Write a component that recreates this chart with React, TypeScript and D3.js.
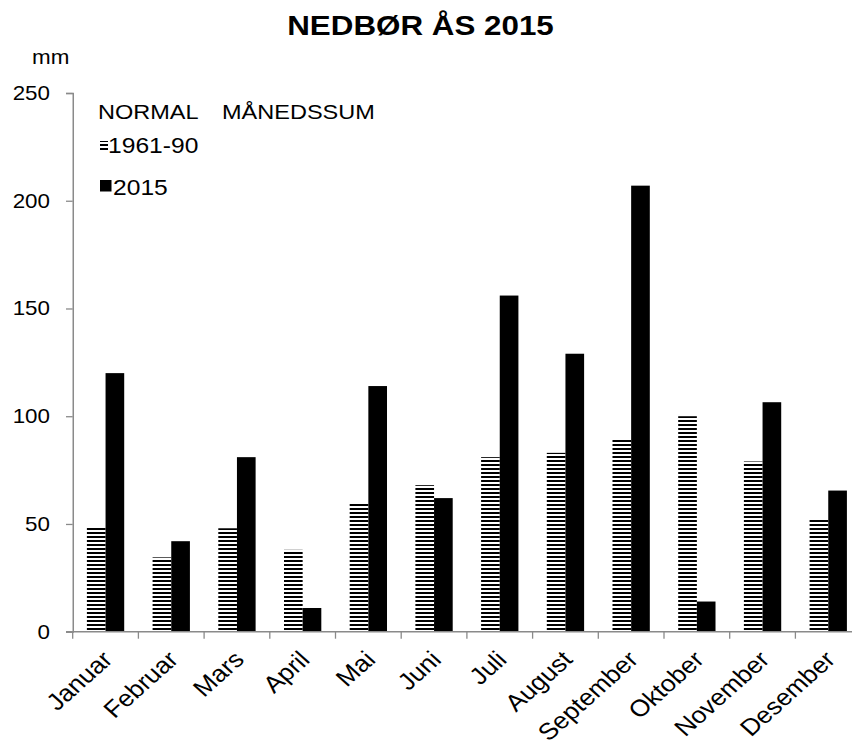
import React, { useRef, useEffect } from "react";
import * as d3 from "d3";

// månedlig nedbør, Ås
const months = [
    "Januar", "Februar", "Mars", "April", "Mai", "Juni",
    "Juli", "August", "September", "Oktober", "November", "Desember",
];
const normal6190 = [49, 34.5, 48, 38, 60, 68, 81, 83, 89.5, 100, 79, 52];
const nedbor2015 = [120, 42, 81, 11, 114, 62, 156, 129, 207, 14, 106.5, 65.5];
const yTicks = [0, 50, 100, 150, 200, 250];
const seriesKeys = ["normal", "y2015"];

const W = 852;
const H = 746;
// the picture is a bit wider than tall, so everything is drawn in a squeezed
// space and stretched back out horizontally
const SX = 1.12;

const App: React.FC = () => {
    const svgRef = useRef<SVGSVGElement | null>(null);

    useEffect(() => {
        const svg = d3.select(svgRef.current);
        svg.selectAll("*").remove();

        const font = "'Liberation Sans', Arial, sans-serif";
        const axisColor = "#8a8a8a";
        const left = 72.7 / SX;
        const step = 65.7 / SX;

        const x = d3
            .scaleBand<string>()
            .domain(months)
            .range([left, left + step * months.length])
            .paddingInner(0.432)
            .paddingOuter(0.216);
        const xs = d3
            .scaleBand<string>()
            .domain(seriesKeys)
            .range([0, x.bandwidth()]);
        const y = d3.scaleLinear().domain([0, 250]).range([631.7, 93]);

        const defs = svg.append("defs");
        const pat = defs
            .append("pattern")
            .attr("id", "hstripes")
            .attr("patternUnits", "userSpaceOnUse")
            .attr("width", 4)
            .attr("height", 4);
        pat.append("rect").attr("width", 4).attr("height", 4).attr("fill", "#fff");
        pat.append("rect").attr("width", 4).attr("height", 2).attr("fill", "#000");

        const g = svg
            .append("g")
            .attr("transform", `scale(${SX},1)`)
            .style("font-family", font);

        // title
        g.append("text")
            .attr("x", 420.5 / SX)
            .attr("y", 35)
            .attr("text-anchor", "middle")
            .style("font-size", "28px")
            .style("font-weight", "bold")
            .text("NEDBØR ÅS 2015");

        g.append("text")
            .attr("x", 32 / SX)
            .attr("y", 64)
            .style("font-size", "20px")
            .text("mm");

        // bars
        const rows = months.map((m, i) => ({
            month: m,
            normal: normal6190[i],
            y2015: nedbor2015[i],
        }));

        const groups = g
            .append("g")
            .selectAll("g")
            .data(rows)
            .join("g")
            .attr("transform", (d) => `translate(${x(d.month)},0)`);

        groups
            .selectAll("rect")
            .data((d) => seriesKeys.map((k) => ({ key: k, value: (d as any)[k] as number })))
            .join("rect")
            .attr("x", (d) => xs(d.key)!)
            .attr("width", xs.bandwidth())
            .attr("y", (d) => y(d.value))
            .attr("height", (d) => y(0) - y(d.value))
            .attr("fill", (d) => (d.key === "normal" ? "url(#hstripes)" : "#000"));

        // y axis
        const yAxis = g
            .append("g")
            .attr("transform", `translate(${left},0)`)
            .call(
                d3
                    .axisLeft(y)
                    .tickValues(yTicks)
                    .tickSizeOuter(0)
                    .tickSize(6.7 / SX)
                    .tickPadding((72.7 - 50 - 6.7) / SX)
            );
        yAxis.select(".domain").attr("stroke", axisColor).attr("stroke-width", 1.5 / SX);
        yAxis.selectAll(".tick line").attr("stroke", axisColor).attr("stroke-width", 1.3);
        yAxis
            .selectAll(".tick text")
            .attr("fill", "#000")
            .style("font-family", font)
            .style("font-size", "20px");

        // x axis: baseline and ticks at category boundaries
        const xr = x.range();
        const xg = g.append("g");
        xg.append("line")
            .attr("x1", xr[0] - 6.7 / SX)
            .attr("x2", xr[1])
            .attr("y1", y(0))
            .attr("y2", y(0))
            .attr("stroke", axisColor)
            .attr("stroke-width", 1.5);
        xg.selectAll("line.tk")
            .data(d3.range(months.length + 1))
            .join("line")
            .attr("class", "tk")
            .attr("x1", (i) => xr[0] + i * x.step())
            .attr("x2", (i) => xr[0] + i * x.step())
            .attr("y1", y(0))
            .attr("y2", y(0) + 7)
            .attr("stroke", axisColor)
            .attr("stroke-width", 1.3 / SX);

        xg.selectAll("text")
            .data(months)
            .join("text")
            .attr("text-anchor", "end")
            .attr(
                "transform",
                (m) =>
                    `translate(${x(m)! + x.bandwidth() / 2 + 8.5 / SX},${661}) rotate(-45)`
            )
            .style("font-size", "23.5px")
            .text((m) => m);

        // legend
        const leg = g.append("g").style("font-size", "21px");
        leg.append("text").attr("x", 98 / SX).attr("y", 119).text("NORMAL");
        leg.append("text").attr("x", 222 / SX).attr("y", 119).text("MÅNEDSSUM");
        leg.append("rect")
            .attr("x", 100 / SX)
            .attr("y", 141)
            .attr("width", 8 / SX)
            .attr("height", 10)
            .attr("fill", "url(#hstripes)");
        leg.append("text")
            .attr("x", 108 / SX)
            .attr("y", 153)
            .style("font-size", "22px")
            .text("1961-90");
        leg.append("rect")
            .attr("x", 100 / SX)
            .attr("y", 180)
            .attr("width", 11.5 / SX)
            .attr("height", 11.5)
            .attr("fill", "#000");
        leg.append("text")
            .attr("x", 113 / SX)
            .attr("y", 195)
            .style("font-size", "22px")
            .text("2015");
    }, []);

    return (
        <svg
            ref={svgRef}
            width={W}
            height={H}
            style={{ position: "absolute", left: 0, top: 0, background: "#fff" }}
        />
    );
};

export default App;
